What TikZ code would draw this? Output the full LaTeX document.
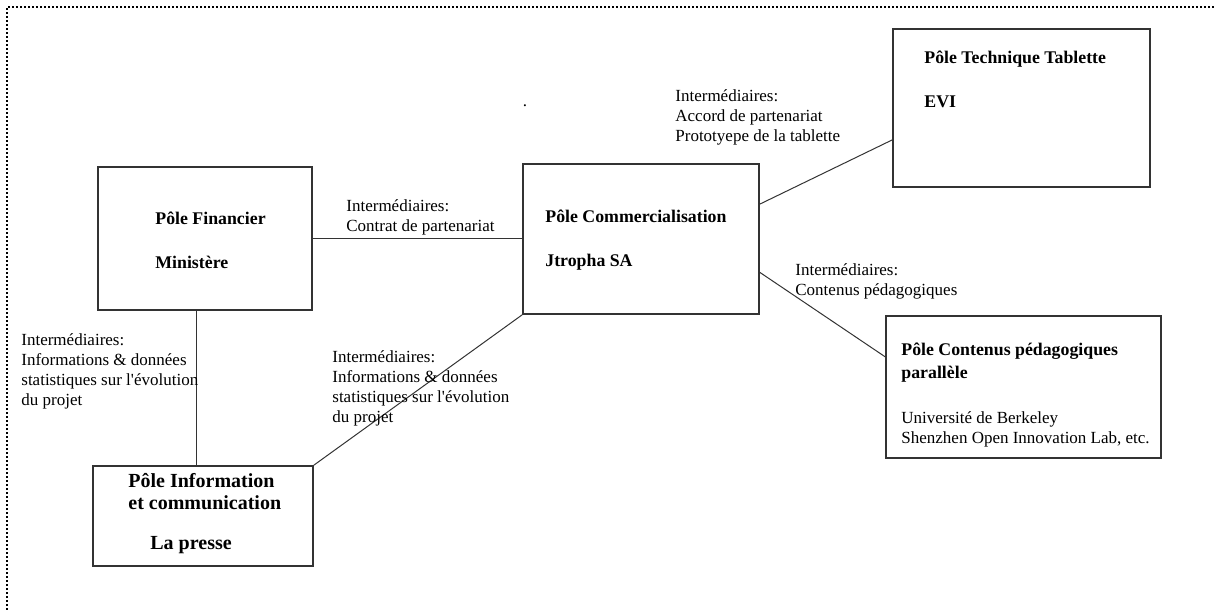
\documentclass[tikz,border=0pt]{standalone}
\usepackage{fontspec}
\setmainfont{Liberation Serif}
\usetikzlibrary{positioning, calc, fit}

\begin{document}
\begin{tikzpicture}[x=0.5pt, y=-0.5pt]
  \newcommand\lblfont{\fontsize{8.5}{10}\selectfont}
  \newcommand\polefont{\fontsize{8.9}{11.5}\selectfont\bfseries}
  \newcommand\infofont{\fontsize{10}{11}\selectfont\bfseries}
  \newcommand\polegap{10.5pt} % gap between pole name and actor
  \newcommand\apos{\textquotesingle}

  \tikzset{pole/.style={draw=black!80, line width=0.8pt, inner sep=0pt}}
  \tikzset{poletext/.style={inner sep=0pt, align=left, anchor=base west, font=\polefont}}
  \tikzset{actortext/.style={poletext, font=\lblfont\mdseries}}
  \tikzset{inter/.style={inner sep=0pt, align=left, anchor=base west, font=\lblfont}}
  \tikzset{link/.style={draw=black!80, line width=0.5pt}}
  \tikzset{frameline/.style={line width=1.2pt, dash pattern=on 1pt off 1pt}}

  \useasboundingbox (0,0) rectangle (1215,610);

  % frame
  \coordinate (frame-tl) at (7,7);
  \coordinate (frame-tr) at (1215,7);
  \coordinate (frame-bl) at (7,610);
  \draw[frameline] (frame-bl) -- (frame-tl) -- (frame-tr);

  % poles (text nodes sit on the baseline of their last line)
  \node[pole, fit={(98,167) (312,310)}] (fin) {};
  \node[pole, fit={(523,164) (759,314)}] (com) {};
  \node[pole, fit={(893,29) (1150,187)}] (tech) {};
  \node[pole, fit={(886,316) (1161,458)}] (cont) {};
  \node[pole, fit={(93,466) (313,566)}] (info) {};

  \node[poletext] at (155,268) (fin-t) {P\^ole Financier\\[\polegap]Minist\`ere};
  \node[poletext] at (545,266) (com-t) {P\^ole Commercialisation\\[\polegap]Jtropha SA};
  \node[poletext] at (924,108) (tech-t) {P\^ole Technique Tablette\\[\polegap]EVI};
  \node[poletext] at (901,378) (cont-t) {P\^ole Contenus p\'edagogiques\\parall\`ele};
  \node[actortext] at (901,443) (cont-a) {Universit\'e de Berkeley\\Shenzhen Open Innovation Lab, etc.};
  \node[poletext, font=\infofont] at (128,509) (info-t) {P\^ole Information\\et communication};
  \node[poletext, font=\infofont] at (150,549) (info-a) {La presse};

  % links
  \coordinate (fin-s) at ($(fin.south west)!0.46!(fin.south east)$);
  \coordinate (com-e1) at ($(com.north east)!0.27!(com.south east)$);
  \coordinate (com-e2) at ($(com.north east)!0.72!(com.south east)$);
  \coordinate (tech-w) at ($(tech.north west)!0.7!(tech.south west)$);
  \coordinate (cont-w) at ($(cont.north west)!0.29!(cont.south west)$);

  \draw[link] (fin.east) -- (fin.east -| com.west);
  \draw[link] (fin-s) -- (fin-s |- info.north);
  \draw[link] (info.north east) -- (com.south west);
  \draw[link] (com-e1) -- (tech-w);
  \draw[link] (com-e2) -- (cont-w);

  % intermediaires
  \node[inter] at (346,231) (lbl-fc) {Interm\'ediaires:\\Contrat de partenariat};
  \node[inter] at (675,141) (lbl-ct) {Interm\'ediaires:\\Accord de partenariat\\Prototyepe de la tablette};
  \node[inter] at (795,295) (lbl-cc) {Interm\'ediaires:\\Contenus p\'edagogiques};
  \node[inter] at (21,405) (lbl-fi) {Interm\'ediaires:\\Informations \& donn\'ees\\statistiques sur l\apos\'evolution\\du projet};
  \node[inter] at (332,422) (lbl-ic) {Interm\'ediaires:\\Informations \& donn\'ees\\statistiques sur l\apos\'evolution\\du projet};
  \node[inter, anchor=base] at (525,107) (stray) {.};
\end{tikzpicture}
\end{document}
